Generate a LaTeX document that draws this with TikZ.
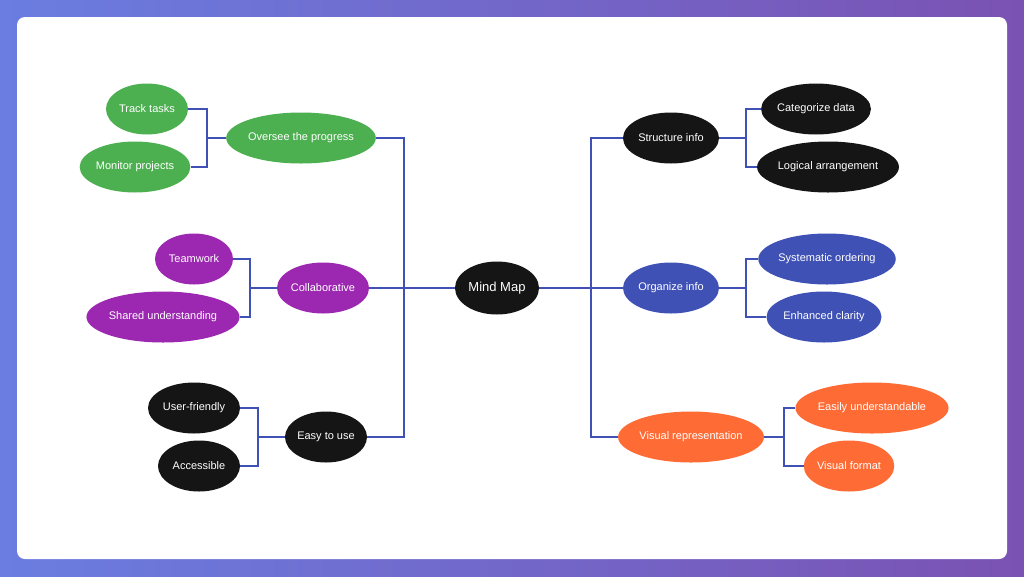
\documentclass[tikz,border=0pt]{standalone}
\usepackage{fontspec}
\setmainfont{Liberation Sans}
\usetikzlibrary{shapes.geometric}
\definecolor{gA}{HTML}{4CAF50}
\definecolor{pA}{HTML}{9C27B0}
\definecolor{bA}{HTML}{3F51B5}
\definecolor{oA}{HTML}{FF6B35}
\definecolor{kA}{HTML}{151515}
\definecolor{lnA}{HTML}{3F51B5}
\definecolor{bgL}{HTML}{6A7DE0}
\definecolor{bgR}{HTML}{7A52B3}
\begin{document}
\begin{tikzpicture}[x=1pt,y=-1pt,
 el/.style={ellipse,inner sep=0pt,minimum height=51pt,text=white,font=\fontsize{11}{13}\selectfont},
 ln/.style={draw=lnA,line width=1.8pt}]
\useasboundingbox (0,0) rectangle (1024,576);
\shade[left color=bgL,right color=bgR] (0,0) rectangle (1024,576);
\fill[white,rounded corners=8pt] (17,17) rectangle (1007,559);
% center
\node[el,fill=kA,minimum width=84pt,minimum height=53pt,font=\fontsize{13}{15}\selectfont] (mm) at (497,288) {Mind Map};
% left
\node[el,fill=gA,minimum width=134pt] (ov) at (301,138) {Oversee the progress};
\node[el,fill=gA,minimum width=82pt] (tt) at (147,109) {Track tasks};
\node[el,fill=gA,minimum width=108pt] (mp) at (135,167) {Monitor projects};
\node[el,fill=pA,minimum width=92pt] (co) at (323,288) {Collaborative};
\node[el,fill=pA,minimum width=78pt] (tw) at (194,259) {Teamwork};
\node[el,fill=pA,minimum width=140pt] (su) at (163,317) {Shared understanding};
\node[el,fill=kA,minimum width=82pt] (eu) at (326,437) {Easy to use};
\node[el,fill=kA,minimum width=92pt] (uf) at (194,408) {User-friendly};
\node[el,fill=kA,minimum width=82pt] (ac) at (199,466) {Accessible};
% right
\node[el,fill=kA,minimum width=96pt] (si) at (671,138) {Structure info};
\node[el,fill=kA,minimum width=108pt] (cd) at (816,109) {Categorize data};
\node[el,fill=kA,minimum width=132pt] (la) at (828,167) {Logical arrangement};
\node[el,fill=bA,minimum width=96pt] (oi) at (671,288) {Organize info};
\node[el,fill=bA,minimum width=128pt] (so) at (827,259) {Systematic ordering};
\node[el,fill=bA,minimum width=112pt] (ec) at (824,317) {Enhanced clarity};
\node[el,fill=oA,minimum width=136pt] (vr) at (691,437) {Visual representation};
\node[el,fill=oA,minimum width=140pt] (es) at (872,408) {Easily understandable};
\node[el,fill=oA,minimum width=90pt] (vf) at (849,466) {Visual format};
% junctions
\coordinate (jl) at (404,288);
\coordinate (jr) at (591,288);
\coordinate (j1) at (207,138);
\coordinate (j2) at (250,288);
\coordinate (j3) at (258,437);
\coordinate (j4) at (746,138);
\coordinate (j5) at (746,288);
\coordinate (j6) at (784,437);
\begin{scope}[on background layer/.try]
\end{scope}
\draw[ln] (mm.west) -- (jl);
\draw[ln] (jl) |- (ov.east);
\draw[ln] (jl) |- (eu.east);
\draw[ln] (jl) -- (co.east);
\draw[ln] (mm.east) -- (jr);
\draw[ln] (jr) |- (si.west);
\draw[ln] (jr) |- (vr.west);
\draw[ln] (jr) -- (oi.west);
\draw[ln] (ov.west) -- (j1);
\draw[ln] (j1) |- (tt.east); \draw[ln] (j1) |- (mp.east);
\draw[ln] (co.west) -- (j2);
\draw[ln] (j2) |- (tw.east); \draw[ln] (j2) |- (su.east);
\draw[ln] (eu.west) -- (j3);
\draw[ln] (j3) |- (uf.east); \draw[ln] (j3) |- (ac.east);
\draw[ln] (si.east) -- (j4);
\draw[ln] (j4) |- (cd.west); \draw[ln] (j4) |- (la.west);
\draw[ln] (oi.east) -- (j5);
\draw[ln] (j5) |- (so.west); \draw[ln] (j5) |- (ec.west);
\draw[ln] (vr.east) -- (j6);
\draw[ln] (j6) |- (es.west); \draw[ln] (j6) |- (vf.west);
\end{tikzpicture}
\end{document}
